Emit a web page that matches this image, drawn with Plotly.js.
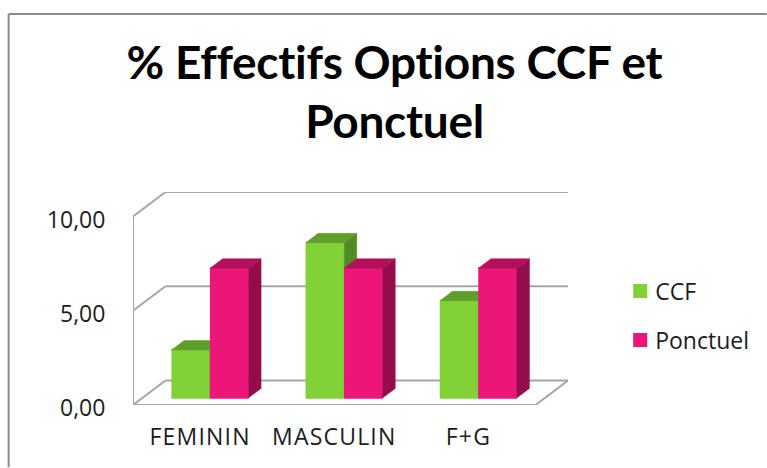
<!DOCTYPE html>
<html><head><meta charset="utf-8">
<script src="https://cdn.plot.ly/plotly-3.0.1.min.js"></script>
<style>
html,body{margin:0;padding:0;background:#fff;overflow:hidden}
#c{width:767px;height:468px}
.gtitle{letter-spacing:-0.28px}
.legendtext{transform:translateX(-5px)}
.xtick text{letter-spacing:1.2px}
</style></head><body><div id="c"></div>
<script>
const titleText = '% Effectifs Options CCF et<br>Ponctuel';
const categories = ['FEMININ', 'MASCULIN', 'F+G'];
const ccfValues = [2.54, 8.23, 5.15];
const ponctuelValues = [6.88, 6.88, 6.88];
const yTickValues = [0, 5, 10];
const yTickLabels = ['0,00', '5,00', '10,00'];

// 3D look, expressed in axis units
const wallDx = 0.242, wallDy = 1.3;
const barDx = 0.093, barDy = 0.5;
const floorDx = 0.0745, floorDy = 0.38;
const barWidth = 0.287;
const gridColor = '#a6a6a6';
const W = 767, H = 468, L = 132.5, R = 568, T = 191.7, B = 405.5;

const slots = categories.map((_, i) => i);
function faces(values, shift) {
  const side = {x: [], y: []}, top = {x: [], y: []};
  values.forEach((v, i) => {
    const c = i + 0.5 + floorDx + shift, l = c - barWidth / 2, r = c + barWidth / 2;
    const b = floorDy, t = b + v;
    side.x.push(r, r + barDx, r + barDx, r, r, null);
    side.y.push(b, b + barDy, t + barDy, t, b, null);
    top.x.push(l, l + barDx, r + barDx, r, l, null);
    top.y.push(t, t + barDy, t + barDy, t, t, null);
  });
  return {side, top};
}
function bar(name, values, shift, color, xa, ya) {
  return {type: 'bar', name, x: slots.map(i => i + 0.5 + floorDx + shift), y: values,
    base: values.map(() => floorDy), width: barWidth - 0.012, xaxis: xa, yaxis: ya,
    legendgroup: name, marker: {color, line: {color, width: 2}}, hoverinfo: 'y'};
}
function poly(p, color, xa, ya) {
  return {type: 'scatter', mode: 'lines', x: p.x, y: p.y, fill: 'toself', fillcolor: color,
    line: {color, width: 0.5}, xaxis: xa, yaxis: ya, showlegend: false, hoverinfo: 'skip'};
}
const fc = faces(ccfValues, -barWidth / 2), fp = faces(ponctuelValues, barWidth / 2);
const traces = [
  bar('CCF', ccfValues, -barWidth / 2, '#82d237', 'x', 'y'),
  poly(fc.side, '#4f8a23', 'x', 'y'),
  poly(fc.top, '#5f9e2b', 'x', 'y'),
  bar('Ponctuel', ponctuelValues, barWidth / 2, '#ec1679', 'x2', 'y2'),
  poly(fp.side, '#960c4b', 'x2', 'y2'),
  poly(fp.top, '#b2105a', 'x2', 'y2')
];

const xRange = [0, 3 + wallDx], yRange = [0, 10 + wallDy];
const line = {color: gridColor, width: 2};
const n = categories.length;
const shapes = [];
function seg(x0, y0, x1, y1) {
  shapes.push({type: 'line', xref: 'x', yref: 'y', x0, y0, x1, y1, line, layer: 'below'});
}
yTickValues.forEach(v => {
  seg(0, v, wallDx, v + wallDy);
  seg(wallDx, v + wallDy, 3 + wallDx, v + wallDy);
});
seg(0, 0, 0, 10);
seg(0, 0, n, 0);
seg(n, 0, n + wallDx, wallDy);
// picture frame
const px = x => (x - L) / (R - L), py = y => (B - y) / (B - T);
const frame = {color: '#8c8c8c', width: 2};
shapes.push({type: 'line', xref: 'paper', yref: 'paper', x0: px(8), y0: py(13), x1: px(W), y1: py(13), line: frame});
shapes.push({type: 'line', xref: 'paper', yref: 'paper', x0: px(8), y0: py(13), x1: px(8), y1: py(H), line: frame});

const tickFont = {family: '"Open Sans", sans-serif', size: 23, color: '#1c1c1c'};
const legendFont = {family: '"Open Sans", sans-serif', size: 23, color: '#1c1c1c'};
const layout = {
  width: W, height: H, paper_bgcolor: 'rgba(0,0,0,0)', plot_bgcolor: 'rgba(0,0,0,0)',
  margin: {l: L, r: W - R, t: T, b: H - B, pad: 0, autoexpand: false},
  showlegend: true, barmode: 'overlay',
  title: {text: titleText, x: 394.5 / W, xanchor: 'center', y: 0.832, yanchor: 'middle',
    font: {family: 'Lato, sans-serif', size: 46, weight: 700, color: '#000'}},
  xaxis: {range: xRange, tickmode: 'array', tickvals: slots.map(i => i + 0.5), ticktext: categories,
    showgrid: false, zeroline: false, showline: false, ticks: 'outside', ticklen: 11, tickcolor: 'rgba(0,0,0,0)',
    tickfont: tickFont, fixedrange: true},
  yaxis: {range: yRange, tickmode: 'array', tickvals: yTickValues, ticktext: yTickLabels,
    showgrid: false, zeroline: false, showline: false, ticks: 'outside', ticklen: 22, tickcolor: 'rgba(0,0,0,0)',
    ticklabelshift: 3, tickfont: tickFont, fixedrange: true},
  xaxis2: {range: xRange, overlaying: 'x', visible: false, fixedrange: true},
  yaxis2: {range: yRange, overlaying: 'y', visible: false, fixedrange: true},
  legend: {x: 1.12, xanchor: 'left', y: 0.636, yanchor: 'top', font: legendFont,
    tracegroupgap: 16, itemwidth: 30, bgcolor: 'rgba(0,0,0,0)'},
  shapes
};
Plotly.newPlot('c', traces, layout, {staticPlot: true, displayModeBar: false});
</script></body></html>
